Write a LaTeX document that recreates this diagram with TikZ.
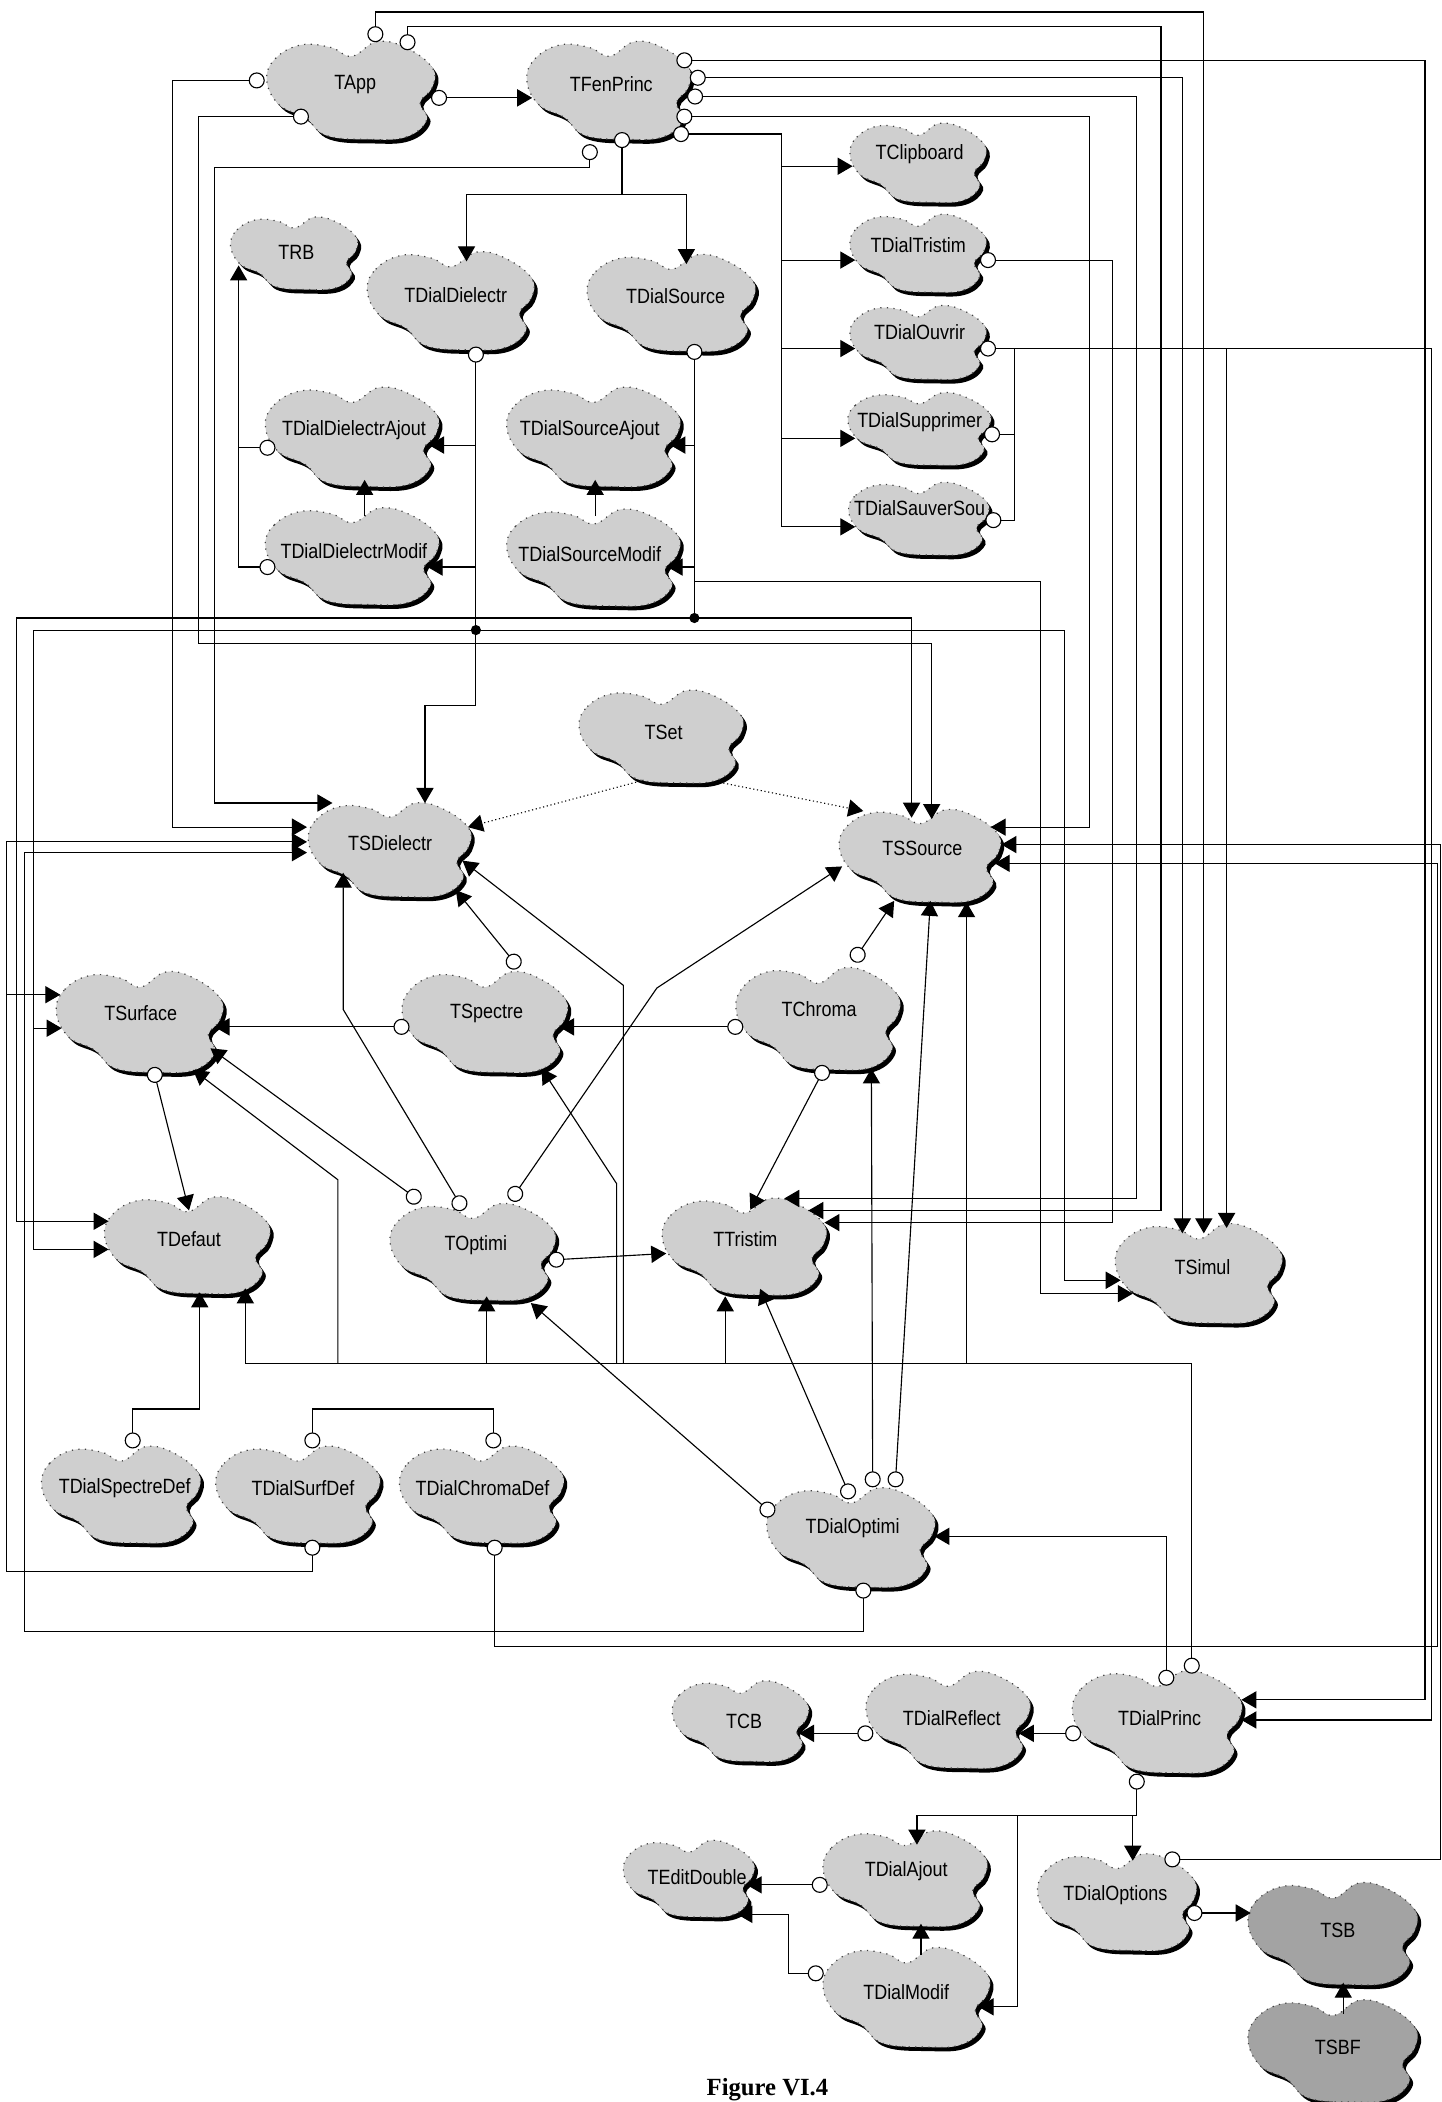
\documentclass[tikz,border=0pt]{standalone}
\usepackage{fontspec}
\usetikzlibrary{arrows.meta,calc}
\newfontfamily\cfont{Liberation Sans}[FakeStretch=0.87]
\newfontfamily\figfont{Liberation Serif}
\definecolor{cfill}{gray}{0.81}
\definecolor{cdark}{gray}{0.64}
\newcommand{\cloudpath}{plot[smooth cycle, tension=0.7] coordinates {(-1.00,0.20) (-0.90,0.65) (-0.60,0.93) (-0.25,0.88) (0.00,0.70) (0.30,1.00) (0.65,0.86) (0.95,0.45) (0.94,0.05) (0.80,-0.25) (0.88,-0.60) (0.64,-0.95) (0.20,-1.00) (-0.30,-0.92) (-0.55,-0.55) (-0.85,-0.30)}}
% name, text x, text y, box x, box y, width, height, fill, label
\newcommand{\bcloud}[9]{%
  \begin{scope}[shift={(#4+2.5,#5+3)}, xscale=#6/2, yscale=-#7/2]
    \fill[black] \cloudpath;
  \end{scope}
  \begin{scope}[shift={(#4,#5)}, xscale=#6/2, yscale=-#7/2]
    \filldraw[fill=#8, draw=black!75, dotted, line width=0.45pt] \cloudpath;
  \end{scope}
  \node[ctext] (#1) at (#2,#3) {#9};
}
\tikzset{
  ctext/.style={inner sep=0pt, font=\cfont\fontsize{7.7}{9}\selectfont},
  con/.style={line width=0.42pt, draw=black},
  uses/.style={con, {Circle[open,fill=white,length=6pt]}-{Triangle[length=5.6pt,width=6.4pt]}},
  usa/.style={con, -{Triangle[length=5.6pt,width=6.4pt]}},
  usc/.style={con, {Circle[open,fill=white,length=6pt]}-},
  dotarr/.style={con, densely dotted, -{Triangle[length=5.6pt,width=6.4pt]}},
}
\begin{document}
\begin{tikzpicture}[x=0.5pt, y=-0.5pt]
\fill[white] (0,0) rectangle (1075,1568);
\useasboundingbox (0,0) rectangle (1075,1568);

% ---------------- clouds ----------------
\bcloud{TApp}{265}{63}{262.5}{67.5}{127}{73}{cfill}{TApp}
\bcloud{TFenPrinc}{456}{63}{455}{67.5}{124}{73}{cfill}{TFenPrinc}
\bcloud{TClipboard}{686}{115}{685.5}{121.5}{103}{59}{cfill}{TClipboard}
\bcloud{TDialTristim}{685}{183}{685.5}{189}{103}{58}{cfill}{TDialTristim}
\bcloud{TDialOuvrir}{686}{248}{685.5}{255.5}{103}{55}{cfill}{TDialOuvrir}
\bcloud{TDialSupprimer}{686}{315}{686.5}{320}{108}{54}{cfill}{TDialSupprimer}
\bcloud{TDialSauverSou}{686}{379}{686}{387}{106}{54}{cfill}{TDialSauverSou}
\bcloud{TRB}{221}{188}{220}{189}{96}{54}{cfill}{TRB}
\bcloud{TDialDielectr}{340}{220}{337}{224.5}{126}{73}{cfill}{TDialDielectr}
\bcloud{TDialSource}{504}{221}{501.5}{226}{127}{72}{cfill}{TDialSource}
\bcloud{TDialDielectrAjout}{264}{321}{263.5}{326}{131}{74}{cfill}{TDialDielectrAjout}
\bcloud{TDialDielectrModif}{264}{411}{263.5}{415}{131}{72}{cfill}{TDialDielectrModif}
\bcloud{TDialSourceAjout}{440}{321}{443.5}{326}{131}{74}{cfill}{TDialSourceAjout}
\bcloud{TDialSourceModif}{440}{413}{443.5}{416}{131}{72}{cfill}{TDialSourceModif}
\bcloud{TSet}{495}{546}{494}{549.5}{124}{69}{cfill}{TSet}
\bcloud{TSDielectr}{291}{629}{291.5}{634}{123}{70}{cfill}{TSDielectr}
\bcloud{TSSource}{688}{633}{687}{638.5}{122}{69}{cfill}{TSSource}
\bcloud{TSurface}{105}{756}{105}{762.5}{126}{75}{cfill}{TSurface}
\bcloud{TSpectre}{363}{756}{362.5}{762.5}{125}{75}{cfill}{TSpectre}
\bcloud{TChroma}{611}{753}{611}{760}{124}{76}{cfill}{TChroma}
\bcloud{TDefaut}{141}{924}{140.5}{929}{125}{72}{cfill}{TDefaut}
\bcloud{TOptimi}{355}{929}{353.5}{934}{125}{72}{cfill}{TOptimi}
\bcloud{TTristim}{556}{924}{556}{930}{124}{72}{cfill}{TTristim}
\bcloud{TSimul}{897}{945}{895}{950}{126}{74}{cfill}{TSimul}
\bcloud{TDialSpectreDef}{93}{1110}{91}{1115}{120}{72}{cfill}{TDialSpectreDef}
\bcloud{TDialSurfDef}{226}{1110}{223}{1115}{124}{72}{cfill}{TDialSurfDef}
\bcloud{TDialChromaDef}{360}{1110}{360}{1115}{124}{72}{cfill}{TDialChromaDef}
\bcloud{TDialOptimi}{636}{1140}{635.5}{1147}{127}{74}{cfill}{TDialOptimi}
\bcloud{TCB}{555}{1284}{553}{1284}{103}{60}{cfill}{TCB}
\bcloud{TDialReflect}{710}{1282}{708}{1283}{124}{72}{cfill}{TDialReflect}
\bcloud{TDialPrinc}{865}{1282}{864}{1284.5}{128}{76}{cfill}{TDialPrinc}
\bcloud{TEditDouble}{520}{1400}{514.5}{1401.5}{99}{57}{cfill}{TEditDouble}
\bcloud{TDialAjout}{676}{1396}{676}{1401.5}{124}{71}{cfill}{TDialAjout}
\bcloud{TDialOptions}{832}{1414}{834}{1419}{120}{72}{cfill}{TDialOptions}
\bcloud{TDialModif}{676}{1486}{677}{1490}{126}{74}{cfill}{TDialModif}
\bcloud{TSB}{998}{1440}{995}{1442.5}{128}{76}{cdark}{TSB}
\bcloud{TSBF}{998}{1527}{995}{1530}{128}{76}{cdark}{TSBF}

\node[font=\figfont\bfseries\fontsize{9.2}{11}\selectfont, anchor=base] (fig) at (572.5,1563) {Figure VI.4};

% ---------------- junction coordinates ----------------
\coordinate (j1) at (583,124);
\coordinate (j2) at (583,194);
\coordinate (j3) at (583,260);
\coordinate (j4) at (583,327);
\coordinate (j5) at (464,145);
\coordinate (j6) at (915,260);
\coordinate (j7) at (757,260);
\coordinate (j8) at (355,332);
\coordinate (j9) at (355,423);
\coordinate (D1) at (355,470);
\coordinate (j10) at (25,767);
\coordinate (D2) at (518,461);
\coordinate (j11) at (518,332);
\coordinate (j12) at (518,423);
\coordinate (j13) at (518,434);
\coordinate (j14) at (5,742);
\coordinate (j15) at (845,1354);
\coordinate (j16) at (759,1354);
\coordinate (b1) at (252,1017);
\coordinate (b2) at (363,1017);
\coordinate (b3) at (460,1017);
\coordinate (b4) at (465,1017);
\coordinate (b5) at (541,1017);
\coordinate (b6) at (721,1017);

% ---------------- TApp ----------------
\draw[uses] ($(TApp)+(56.5,10)$) -- ($(TFenPrinc)+(-59,10)$);
\draw[uses] ($(TApp)+(15,-31.5)$) -- (280,9) -- (898,9) -- ($(TSimul)+(1,-25)$);
\draw[uses] ($(TApp)+(39,-25.5)$) -- (304,20) -- (866,20) -- (866,903) -- ($(TTristim)+(47,-21)$);
\draw[uses] ($(TApp)+(-67.5,-3)$) -- (129,60) -- (129,617) -- ($(TSDielectr)+(-62,-12)$);
\draw[uses] ($(TApp)+(-34.5,24)$) -- (148,87) -- (148,480) -- (695,480) -- ($(TSSource)+(7,-22)$);

% ---------------- TFenPrinc ----------------
\draw[uses] ($(TFenPrinc)+(48.5,-18)$) -- (1063,45) -- (1063,1268) -- ($(TDialPrinc)+(61,-14)$);
\draw[uses] ($(TFenPrinc)+(58.5,-5)$) -- (882,58) -- ($(TSimul)+(-15,-25)$);
\draw[uses] ($(TFenPrinc)+(56.5,9)$) -- (848,72) -- (848,894) -- ($(TTristim)+(29,-30)$);
\draw[uses] ($(TFenPrinc)+(48.5,24)$) -- (813,87) -- (813,617) -- ($(TSSource)+(51,-16)$);
\draw[uses] ($(TFenPrinc)+(46,37)$) -- (583,100) -- (583,393) -- ($(TDialSauverSou)+(-48,14)$);
\draw[usa] (j1) -- ($(TClipboard)+(-50,9)$);
\draw[usa] (j2) -- ($(TDialTristim)+(-47,11)$);
\draw[usa] (j3) -- ($(TDialOuvrir)+(-48,12)$);
\draw[usa] (j4) -- ($(TDialSupprimer)+(-48,12)$);
\draw[uses] ($(TFenPrinc)+(-16,44.5)$) -- (440,125) -- (160,125) -- (160,599) -- ($(TSDielectr)+(-43,-30)$);
\draw[uses] ($(TFenPrinc)+(8,35.5)$) -- (j5) -- (348,145) -- ($(TDialDielectr)+(8,-25)$);
\draw[usa] (j5) -- (512,145) -- ($(TDialSource)+(8,-24)$);

% ---------------- dialogs at the top right ----------------
\draw[uses] ($(TDialTristim)+(46,11)$) -- (830,194) -- (830,912) -- ($(TTristim)+(59,-12)$);
\draw[uses] ($(TDialOuvrir)+(45,12)$) -- (1068,260) -- (1068,1283) -- ($(TDialPrinc)+(61,1)$);
\draw[usa] (j6) -- ($(TSimul)+(18,-29)$);
\draw[usc] ($(TDialSupprimer)+(48,9)$) -- (757,324);
\draw[usc] ($(TDialSauverSou)+(49,9)$) -- (757,388) -- (j7);

% ---------------- TRB group ----------------
\draw[uses] ($(TDialDielectrAjout)+(-58.5,13)$) -- (178,334) -- ($(TRB)+(-43,10)$);
\draw[usc] ($(TDialDielectrModif)+(-58.5,12)$) -- (178,423) -- (178,334);

% ---------------- TDialDielectr ----------------
\draw[uses] ($(TDialDielectr)+(15,38.5)$) -- (D1) -- (355,526) -- (317,526) -- ($(TSDielectr)+(26,-30)$);
\draw[usa] (j8) -- ($(TDialDielectrAjout)+(56,11)$);
\draw[usa] (j9) -- ($(TDialDielectrModif)+(55,12)$);
\draw[usa] ($(TDialDielectrModif)+(8,-26)$) -- ($(TDialDielectrAjout)+(8,37)$);
\draw[usa] (D1) -- (25,470) -- (25,932) -- ($(TDefaut)+(-60,8)$);
\draw[usa] (j10) -- ($(TSurface)+(-59,11)$);
\draw[usa] (D1) -- (794,470) -- (794,955) -- ($(TSimul)+(-61,10)$);
\fill (D1) circle[radius=1.9pt];

% ---------------- TDialSource ----------------
\draw[uses] ($(TDialSource)+(14,35.5)$) -- (D2) -- (680,461) -- ($(TSSource)+(-8,-23)$);
\draw[usa] (j11) -- ($(TDialSourceAjout)+(60,11)$);
\draw[usa] (j12) -- ($(TDialSourceModif)+(58,10)$);
\draw[usa] ($(TDialSourceModif)+(4,-28)$) -- ($(TDialSourceAjout)+(4,37)$);
\draw[usa] (j13) -- (776,434) -- (776,965) -- ($(TSimul)+(-52,20)$);
\draw[usa] (D2) -- (12,461) -- (12,911) -- ($(TDefaut)+(-60,-13)$);
\fill (D2) circle[radius=1.9pt];

% ---------------- TSet ----------------
\draw[dotarr] ($(TSet)+(-15,36)$) -- ($(TSDielectr)+(58,-12)$);
\draw[dotarr] ($(TSet)+(39,37)$) -- ($(TSSource)+(-44,-28)$);

% ---------------- middle ----------------
\draw[uses] ($(TSpectre)+(24,-34)$) -- ($(TSDielectr)+(49,35)$);
\draw[uses] ($(TSpectre)+(-57.5,10)$) -- ($(TSurface)+(55,10)$);
\draw[uses] ($(TChroma)+(-56.5,13)$) -- ($(TSpectre)+(54,10)$);
\draw[uses] ($(TChroma)+(25.4,-35.8)$) -- ($(TSSource)+(-21,39)$);
\draw[uses] ($(TChroma)+(5,42)$) -- ($(TTristim)+(3.7,-21.5)$);
\draw[uses] ($(TSurface)+(9,40)$) -- ($(TDefaut)+(0,-21)$);
\draw[uses] ($(TOptimi)+(-41.5,-32.8)$) -- ($(TSurface)+(52,26)$);
\draw[uses] ($(TOptimi)+(-9.2,-26.3)$) -- (256,753) -- ($(TSDielectr)+(-35,22)$);
\draw[uses] ($(TOptimi)+(25.9,-33.5)$) -- (490,737) -- ($(TSSource)+(-59.8,13.3)$);
\draw[uses] ($(TOptimi)+(54,11)$) -- ($(TTristim)+(-59,11)$);

% ---------------- TDialOptimi ----------------
\draw[uses] ($(TDialOptimi)+(-59,-10)$) -- ($(TOptimi)+(41,43)$);
\draw[uses] ($(TDialOptimi)+(-1,-22)$) -- ($(TTristim)+(11,37.4)$);
\draw[uses] ($(TDialOptimi)+(15,-30.5)$) -- ($(TChroma)+(39,44)$);
\draw[uses] ($(TDialOptimi)+(31.7,-30.5)$) -- ($(TSSource)+(6,39)$);
\draw[uses] ($(TDialOptimi)+(8,40.5)$) -- (644,1217) -- (18,1217) -- (18,636) -- ($(TSDielectr)+(-62,7)$);

% ---------------- TDialPrinc ----------------
\draw[uses] ($(TDialPrinc)+(5,-24.5)$) -- (870,1146) -- ($(TDialOptimi)+(61,6)$);
\draw[uses] ($(TDialPrinc)+(24,-33.5)$) -- (889,1017) -- (183,1017) -- ($(TDefaut)+(42,37)$);
\draw[usa] (b1) -- (252,880) -- ($(TSurface)+(39,42)$);
\draw[usa] (b2) -- ($(TOptimi)+(8,38)$);
\draw[usa] (b3) -- (460,883) -- ($(TSpectre)+(41,41)$);
\draw[usa] (b4) -- (465,735) -- ($(TSDielectr)+(54,13)$);
\draw[usa] (b5) -- ($(TTristim)+(-15,43)$);
\draw[usa] (b6) -- ($(TSSource)+(33,40)$);

% ---------------- default dialogs ----------------
\draw[uses] ($(TDialSpectreDef)+(6,-29.5)$) -- (99,1051) -- (149,1051) -- ($(TDefaut)+(8,40)$);
\draw[usc] ($(TDialSurfDef)+(7,-29.5)$) -- (233,1051);
\draw[usc] ($(TDialChromaDef)+(8,-29.5)$) -- (368,1051) -- (233,1051);
\draw[uses] ($(TDialSurfDef)+(7,38.5)$) -- (233,1172) -- (5,1172) -- (5,628) -- ($(TSDielectr)+(-62,-1)$);
\draw[usa] (j14) -- ($(TSurface)+(-60,-14)$);
\draw[uses] ($(TDialChromaDef)+(9,38.5)$) -- (369,1228) -- (1072,1228) -- (1072,644) -- ($(TSSource)+(54,11)$);

% ---------------- bottom group ----------------
\draw[uses] ($(TDialOptions)+(36.5,-27)$) -- (1074.5,1387) -- (1074.5,630) -- ($(TSSource)+(59,-3)$);
\draw[uses] ($(TDialPrinc)+(-58.5,11)$) -- ($(TDialReflect)+(50,11)$);
\draw[uses] ($(TDialReflect)+(-58.5,11)$) -- ($(TCB)+(41,9)$);
\draw[uses] ($(TDialPrinc)+(-17,41)$) -- (848,1354) -- (684,1354) -- ($(TDialAjout)+(8,-20)$);
\draw[usa] (j15) -- ($(TDialOptions)+(13,-26)$);
\draw[usa] (j16) -- (759,1497) -- ($(TDialModif)+(54,11)$);
\draw[uses] ($(TDialAjout)+(-58.5,10)$) -- ($(TEditDouble)+(37,6)$);
\draw[uses] ($(TDialModif)+(-61.5,-14)$) -- (588,1472) -- (588,1428) -- ($(TEditDouble)+(30,28)$);
\draw[usa] ($(TDialModif)+(11,-28)$) -- ($(TDialAjout)+(11,39)$);
\draw[uses] ($(TDialOptions)+(53,13)$) -- ($(TSB)+(-65,-13)$);
\draw[usa] ($(TSBF)+(4,-25)$) -- ($(TSB)+(4,39)$);
\end{tikzpicture}
\end{document}
